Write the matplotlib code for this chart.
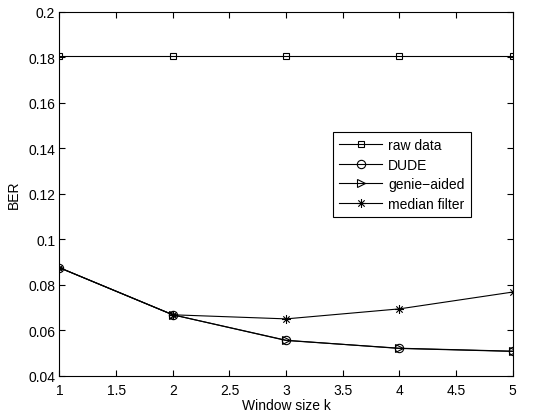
import matplotlib
matplotlib.use("Agg")
import matplotlib.pyplot as plt
from matplotlib.path import Path

plt.rcParams['font.family'] = ['Liberation Sans', 'DejaVu Sans']

# window sizes and BER values
window_k = [1, 2, 3, 4, 5]
raw_data = [0.1805, 0.1805, 0.1805, 0.1805, 0.1805]
dude = [0.0875, 0.0668, 0.0555, 0.0521, 0.0508]
genie_aided = [0.0875, 0.0668, 0.0556, 0.0520, 0.0507]
median_filter = [0.0875, 0.0668, 0.0650, 0.0694, 0.0768]

# MATLAB-style asterisk: a plus and a cross drawn as strokes
d = 0.7071
star = Path([(0, -1), (0, 1), (-1, 0), (1, 0), (-d, -d), (d, d), (-d, d), (d, -d)],
            [Path.MOVETO, Path.LINETO] * 4)

fig = plt.figure(figsize=(5.33, 4.14), dpi=100)
ax = fig.add_axes([0.1116, 0.090, 0.8504, 0.879])

style = dict(color='black', linewidth=0.8, markerfacecolor='none', markeredgewidth=0.8)
ax.plot(window_k, raw_data, marker='s', markersize=5, label='raw data', **style)
ax.plot(window_k, dude, marker='o', markersize=6, label='DUDE', **style)
ax.plot(window_k, genie_aided, marker='>', markersize=6, label='genie\u2212aided', **style)
ax.plot(window_k, median_filter, marker=star, markersize=6.5, label='median filter', **style)

ax.set_xlim(1, 5)
ax.set_ylim(0.04, 0.2)
ax.set_xticks([1, 1.5, 2, 2.5, 3, 3.5, 4, 4.5, 5])
ax.set_xticklabels(['1', '1.5', '2', '2.5', '3', '3.5', '4', '4.5', '5'])
ax.set_yticks([0.04, 0.06, 0.08, 0.1, 0.12, 0.14, 0.16, 0.18, 0.2])
ax.set_yticklabels(['0.04', '0.06', '0.08', '0.1', '0.12', '0.14', '0.16', '0.18', '0.2'])
ax.tick_params(direction='in', top=True, right=True, labelsize=10, length=4,
               width=0.8)
ax.tick_params(axis='x', pad=5)
ax.tick_params(axis='y', pad=3)
for s in ax.spines.values():
    s.set_linewidth(0.8)

ax.set_xlabel('Window size k', fontsize=10, labelpad=1)
ax.set_ylabel('BER', fontsize=10, labelpad=5)

leg = ax.legend(loc='upper left', bbox_to_anchor=(0.603, 0.670), fontsize=10,
                frameon=True, fancybox=False, edgecolor='black', framealpha=1,
                handlelength=3.1, borderpad=0.45, labelspacing=0.4,
                handletextpad=0.45, borderaxespad=0)
leg.get_frame().set_linewidth(0.8)

fig.savefig('out.png', dpi=100)
